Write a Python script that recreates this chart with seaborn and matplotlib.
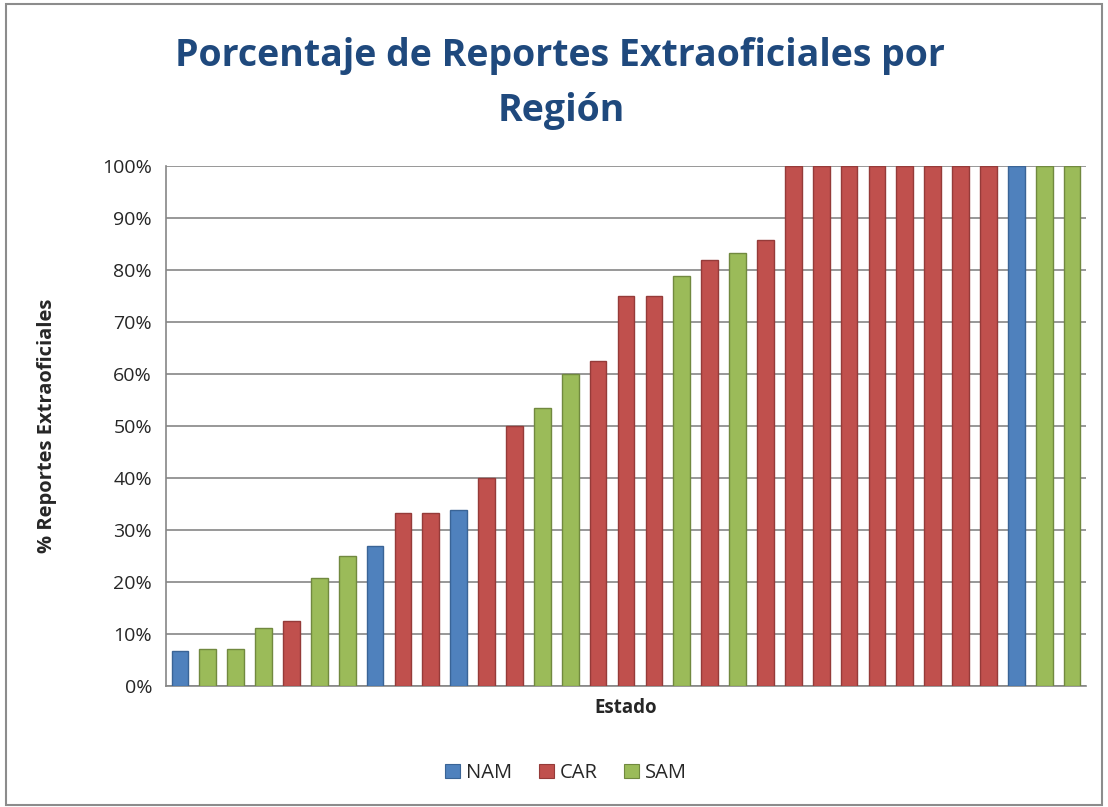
import numpy as np
import pandas as pd
import matplotlib as mpl
import matplotlib.pyplot as plt
import seaborn as sns
from matplotlib.ticker import PercentFormatter
from matplotlib.patches import Rectangle

# datos (ordenados de menor a mayor)
estados = [f"E{i+1}" for i in range(33)]
regiones = ['NAM', 'SAM', 'SAM', 'SAM', 'CAR', 'SAM', 'SAM', 'NAM', 'CAR', 'CAR', 'NAM',
            'CAR', 'CAR', 'SAM', 'SAM', 'CAR', 'CAR', 'CAR', 'SAM', 'CAR', 'SAM', 'CAR',
            'CAR', 'CAR', 'CAR', 'CAR', 'CAR', 'CAR', 'CAR', 'CAR', 'NAM', 'SAM', 'SAM']
porcentajes = [6.7, 7.1, 7.1, 11.1, 12.5, 20.8, 25.0, 26.9, 33.3, 33.3, 33.8,
               40.0, 50.0, 53.5, 60.0, 62.5, 75.0, 75.0, 78.8, 82.0, 83.3, 85.7,
               100, 100, 100, 100, 100, 100, 100, 100, 100, 100, 100]
orden_regiones = ['NAM', 'CAR', 'SAM']
colores = {'NAM': '#4F81BD', 'CAR': '#C0504D', 'SAM': '#9BBB59'}
bordes = {'NAM': '#3A6496', 'CAR': '#953B39', 'SAM': '#71893F'}

df = pd.DataFrame({'Estado': estados, 'Region': regiones, 'Porcentaje': porcentajes})

sns.set_style('white')
plt.rcParams['font.family'] = ['Open Sans', 'DejaVu Sans']

fig = plt.figure(figsize=(11.08, 8.07), dpi=100)
ax = fig.add_axes([166 / 1108, 1 - 686 / 807, 920 / 1108, 520 / 807])

sns.barplot(data=df, x='Estado', y='Porcentaje', hue='Region', hue_order=orden_regiones,
            palette=colores, saturation=1, dodge=False, width=0.6, ax=ax, legend=False,
            linewidth=1, zorder=3)
# borde algo mas oscuro segun el color de cada barra
for bar in ax.patches:
    fc = mpl.colors.to_hex(bar.get_facecolor())
    for reg, c in colores.items():
        if fc.lower() == c.lower():
            bar.set_edgecolor(bordes[reg])

ax.set_ylim(0, 100)
ax.set_xlim(-0.5, len(estados) - 0.5)
ax.set_yticks(np.arange(0, 101, 10))
ax.yaxis.set_major_formatter(PercentFormatter(decimals=0))
ax.tick_params(axis='y', labelsize=14, length=0, pad=10)
ax.set_xticks([])
ax.grid(axis='y', color='#868686', linewidth=1.2, zorder=0)
ax.set_axisbelow(True)
for s in ['top', 'right']:
    ax.spines[s].set_visible(False)
for s in ['left', 'bottom']:
    ax.spines[s].set_color('#868686')
    ax.spines[s].set_linewidth(1.2)

ax.set_xlabel('Estado', fontsize=13.5, fontweight='bold')
ax.xaxis.set_label_coords(0.5, -12 / 520)
ax.set_ylabel('% Reportes Extraoficiales', fontsize=14.5, fontweight='bold')
ax.yaxis.set_label_coords(-109 / 920, 0.5)

fig.text(0.505, 1 - 56 / 807, 'Porcentaje de Reportes Extraoficiales por', ha='center',
         va='center', fontsize=27, fontweight='bold', color='#1F497D')
fig.text(0.507, 1 - 111 / 807, 'Región', ha='center', va='center',
         fontsize=27, fontweight='bold', color='#1F497D')

handles = [Rectangle((0, 0), 1, 1, facecolor=colores[r], edgecolor=bordes[r], linewidth=0.8)
           for r in orden_regiones]
fig.legend(handles, orden_regiones, loc='center', bbox_to_anchor=(0.511, 1 - 773 / 807),
           ncol=3, frameon=False, fontsize=14.5, handlelength=0.75, handleheight=0.75,
           handletextpad=0.3, columnspacing=1.3)

fig.patches.append(Rectangle((0.005, 0.003), 0.99, 0.992, transform=fig.transFigure,
                             fill=False, edgecolor='#8c8c8c', linewidth=1.5))

fig.savefig('out.png', dpi=100)
